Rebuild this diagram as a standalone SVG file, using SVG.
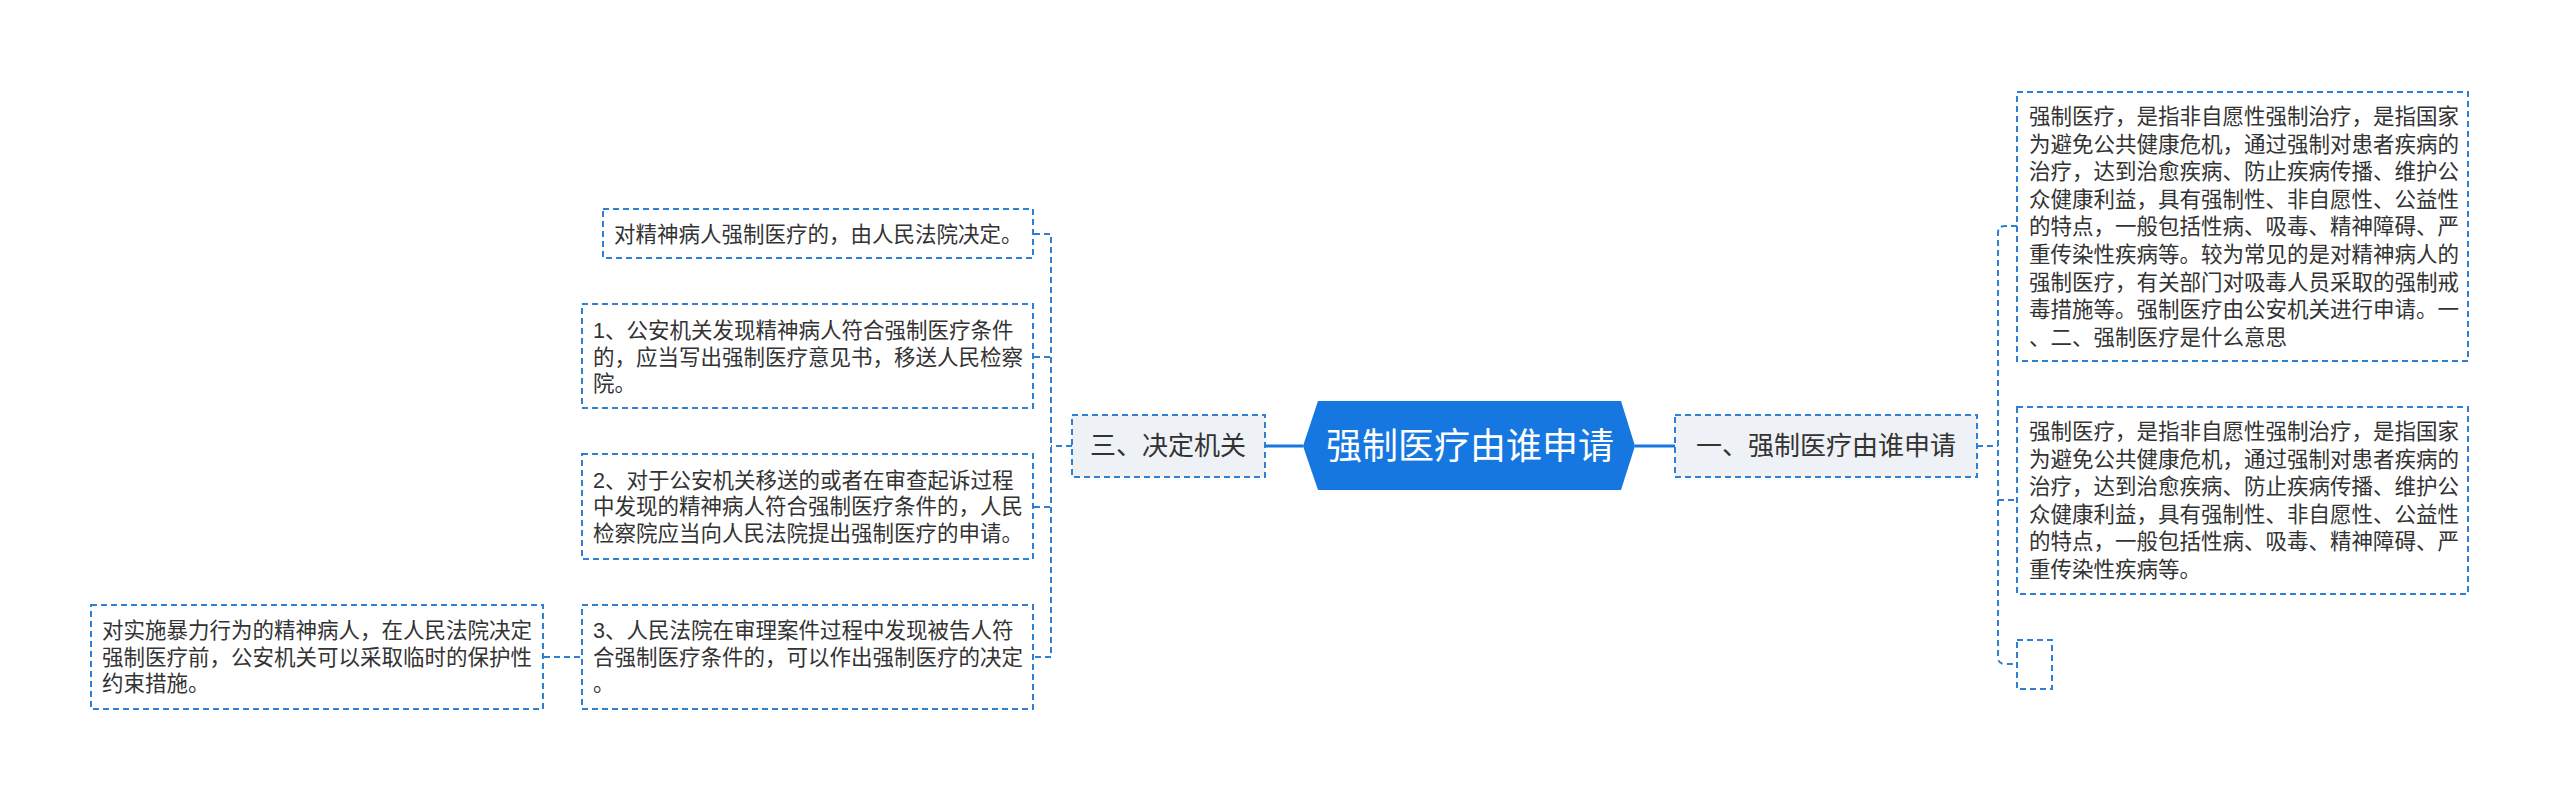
<svg xmlns="http://www.w3.org/2000/svg" width="2560" height="801" viewBox="0 0 2560 801">
<style>
.b{fill:#fff;stroke:#2f7fd3;stroke-width:2;stroke-dasharray:6 4}
.l1{fill:#eef1f5;stroke:#2f7fd3;stroke-width:2;stroke-dasharray:6 4}
.c{fill:none;stroke:#2f7fd3;stroke-width:2;stroke-dasharray:6 4}
.s{fill:none;stroke:#1677e0;stroke-width:3}
text{font-family:"Liberation Sans","Noto Sans CJK SC",sans-serif;fill:#333}
.t{font-size:21.5px}
.m{font-size:26px;dominant-baseline:central;text-anchor:middle}
</style>
<rect width="2560" height="801" fill="#fff"/>
<g id="connectors">
<path class="s" d="M1266 446H1303M1635 446H1675"/>
<path class="c" d="M1072 446H1051M1034 234H1051V657H1034M1034 357H1051M1034 507H1051"/>
<path class="c" d="M580 657H543"/>
<path class="c" d="M1977 446H1998M2017 226H2005Q1998 226 1998 233V657Q1998 664 2005 664H2017M1998 500H2017"/>
</g>
<g id="root">
<polygon points="1318,401 1621,401 1635,446 1621,490 1318,490 1303,446" fill="#1677e0"/>
<text x="1470" y="446" style="font-size:36px;fill:#fff;dominant-baseline:central;text-anchor:middle">强制医疗由谁申请</text>
</g>
<g id="n1">
<rect class="l1" x="1675" y="415" width="302" height="62"/>
<text class="m" x="1826" y="446">一、强制医疗由谁申请</text>
</g>
<g id="n3">
<rect class="l1" x="1072" y="415" width="193" height="62"/>
<text class="m" x="1168" y="446">三、决定机关</text>
</g>
<g id="r1">
<rect class="b" x="2017" y="92" width="451" height="269"/>
<text class="t" x="2029" dominant-baseline="central">
<tspan x="2029" y="117">强制医疗，是指非自愿性强制治疗，是指国家</tspan>
<tspan x="2029" y="144.6">为避免公共健康危机，通过强制对患者疾病的</tspan>
<tspan x="2029" y="172.2">治疗，达到治愈疾病、防止疾病传播、维护公</tspan>
<tspan x="2029" y="199.8">众健康利益，具有强制性、非自愿性、公益性</tspan>
<tspan x="2029" y="227.4">的特点，一般包括性病、吸毒、精神障碍、严</tspan>
<tspan x="2029" y="255">重传染性疾病等。较为常见的是对精神病人的</tspan>
<tspan x="2029" y="282.6">强制医疗，有关部门对吸毒人员采取的强制戒</tspan>
<tspan x="2029" y="310.2">毒措施等。强制医疗由公安机关进行申请。一</tspan>
<tspan x="2029" y="337.8">、二、强制医疗是什么意思</tspan>
</text>
</g>
<g id="r2">
<rect class="b" x="2017" y="407" width="451" height="187"/>
<text class="t" dominant-baseline="central">
<tspan x="2029" y="432">强制医疗，是指非自愿性强制治疗，是指国家</tspan>
<tspan x="2029" y="459.6">为避免公共健康危机，通过强制对患者疾病的</tspan>
<tspan x="2029" y="487.2">治疗，达到治愈疾病、防止疾病传播、维护公</tspan>
<tspan x="2029" y="514.8">众健康利益，具有强制性、非自愿性、公益性</tspan>
<tspan x="2029" y="542.4">的特点，一般包括性病、吸毒、精神障碍、严</tspan>
<tspan x="2029" y="570">重传染性疾病等。</tspan>
</text>
</g>
<g id="r3">
<rect class="b" x="2017" y="640" width="35" height="49"/>
</g>
<g id="lA">
<rect class="b" x="603" y="209" width="430" height="49"/>
<text class="t" x="614" y="235" dominant-baseline="central">对精神病人强制医疗的，由人民法院决定。</text>
</g>
<g id="lB">
<rect class="b" x="582" y="304" width="451" height="104"/>
<text class="t" dominant-baseline="central">
<tspan x="593" y="331">1、公安机关发现精神病人符合强制医疗条件</tspan>
<tspan x="593" y="357.5">的，应当写出强制医疗意见书，移送人民检察</tspan>
<tspan x="593" y="384">院。</tspan>
</text>
</g>
<g id="lC">
<rect class="b" x="582" y="454" width="451" height="105"/>
<text class="t" dominant-baseline="central">
<tspan x="593" y="480.5">2、对于公安机关移送的或者在审查起诉过程</tspan>
<tspan x="593" y="507">中发现的精神病人符合强制医疗条件的，人民</tspan>
<tspan x="593" y="533.5">检察院应当向人民法院提出强制医疗的申请。</tspan>
</text>
</g>
<g id="lD">
<rect class="b" x="582" y="605" width="451" height="104"/>
<text class="t" dominant-baseline="central">
<tspan x="593" y="631">3、人民法院在审理案件过程中发现被告人符</tspan>
<tspan x="593" y="657.5">合强制医疗条件的，可以作出强制医疗的决定</tspan>
<tspan x="593" y="684">。</tspan>
</text>
</g>
<g id="lE">
<rect class="b" x="91" y="605" width="452" height="104"/>
<text class="t" dominant-baseline="central">
<tspan x="102" y="631">对实施暴力行为的精神病人，在人民法院决定</tspan>
<tspan x="102" y="657.5">强制医疗前，公安机关可以采取临时的保护性</tspan>
<tspan x="102" y="684">约束措施。</tspan>
</text>
</g>
</svg>
